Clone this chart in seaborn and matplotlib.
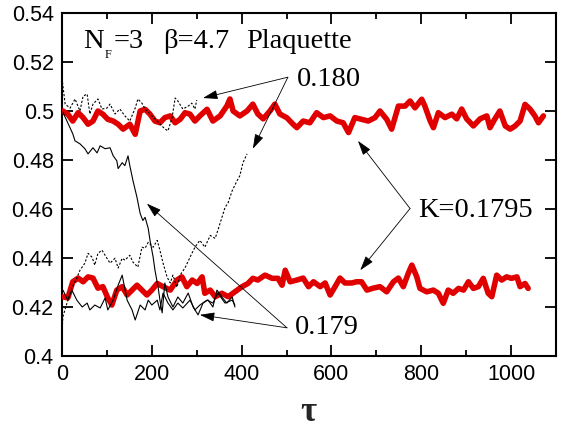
import matplotlib
matplotlib.use("Agg")
import matplotlib.pyplot as plt
import seaborn as sns
from matplotlib.ticker import MultipleLocator, FuncFormatter

# ---------------- data ----------------
# K=0.1795, upper run (red)
red_hi_tau = [2, 13, 24, 36, 47, 58, 69, 80, 91, 102, 114, 125, 136, 151, 163, 174, 185, 196, 207, 218,
              229, 241, 252, 263, 274, 285, 296, 307, 323, 336, 352, 367, 374, 381, 396, 412, 425, 436, 448, 463,
              474, 485, 501, 514, 523, 537, 552, 567, 582, 597, 612, 626, 638, 652, 667, 682, 697, 708, 723, 734,
              749, 764, 775, 786, 801, 808, 820, 827, 838, 853, 868, 879, 890, 901, 916, 931, 946, 953, 964, 975,
              987, 998, 1009, 1020, 1031, 1042, 1053, 1061, 1072]
red_hi_val = [0.5000, 0.4987, 0.4959, 0.4993, 0.4973, 0.4946, 0.4959, 0.5000, 0.4987, 0.4966, 0.4959, 0.4946,
              0.4926, 0.4946, 0.4905, 0.5000, 0.5007, 0.4987, 0.4959, 0.4952, 0.4973, 0.4980, 0.4952, 0.4966,
              0.4993, 0.4987, 0.4959, 0.4980, 0.5007, 0.4959, 0.4980, 0.5020, 0.5049, 0.5000, 0.4980, 0.5000,
              0.5028, 0.4988, 0.4968, 0.5000, 0.5028, 0.4988, 0.4972, 0.4947, 0.4932, 0.4959, 0.4952, 0.4993,
              0.4973, 0.4980, 0.4959, 0.4952, 0.4912, 0.4973, 0.4966, 0.4959, 0.4973, 0.5000, 0.4966, 0.4926,
              0.5020, 0.5020, 0.5041, 0.5013, 0.5048, 0.5020, 0.4959, 0.4932, 0.4993, 0.4973, 0.4987, 0.4968,
              0.5008, 0.4968, 0.4939, 0.4968, 0.4980, 0.4932, 0.4968, 0.5000, 0.4939, 0.4926, 0.4939, 0.4959,
              0.5027, 0.5008, 0.4980, 0.4952, 0.4980]

# K=0.1795, lower run (red)
red_lo_tau = [2, 13, 24, 36, 47, 58, 69, 80, 91, 102, 111, 122, 134, 145, 156, 167, 178, 189, 200, 212,
              225, 241, 256, 267, 278, 290, 301, 312, 318, 330, 341, 356, 370, 385, 401, 414, 425, 436, 452, 468,
              481, 490, 497, 508, 523, 537, 549, 560, 575, 586, 597, 608, 619, 630, 645, 656, 667, 679, 693, 708,
              723, 738, 749, 760, 771, 779, 790, 797, 812, 827, 838, 849, 860, 871, 883, 894, 905, 916, 927, 938,
              949, 957, 968, 979, 990, 1001, 1013, 1020, 1031, 1038]
red_lo_val = [0.4242, 0.4237, 0.4303, 0.4318, 0.4303, 0.4323, 0.4318, 0.4277, 0.4283, 0.4237, 0.4208, 0.4269,
              0.4283, 0.4249, 0.4269, 0.4289, 0.4269, 0.4249, 0.4269, 0.4296, 0.4283, 0.4269, 0.4310, 0.4323,
              0.4283, 0.4310, 0.4296, 0.4323, 0.4256, 0.4269, 0.4242, 0.4256, 0.4242, 0.4262, 0.4283, 0.4296,
              0.4317, 0.4310, 0.4330, 0.4317, 0.4317, 0.4289, 0.4350, 0.4303, 0.4310, 0.4318, 0.4283, 0.4303,
              0.4283, 0.4298, 0.4249, 0.4283, 0.4318, 0.4298, 0.4298, 0.4303, 0.4303, 0.4269, 0.4277, 0.4283,
              0.4262, 0.4303, 0.4318, 0.4283, 0.4337, 0.4371, 0.4323, 0.4276, 0.4262, 0.4269, 0.4256, 0.4215,
              0.4269, 0.4256, 0.4276, 0.4269, 0.4303, 0.4276, 0.4283, 0.4317, 0.4256, 0.4242, 0.4330, 0.4310,
              0.4323, 0.4317, 0.4323, 0.4283, 0.4296, 0.4276]

# K=0.179, run started from the ordered configuration (solid black)
k179a_tau = [2, 11, 24, 29, 40, 51, 58, 69, 78, 85, 96, 107, 114, 122, 125, 134, 140, 147, 151, 158, 167, 174,
             180, 185, 192, 196, 203, 207, 214, 218, 223, 229, 236, 247, 258, 269, 281, 292, 303, 314, 325, 336,
             345, 356, 367, 379, 385]
k179a_val = [0.4995, 0.4959, 0.4907, 0.4878, 0.4866, 0.4846, 0.4825, 0.4850, 0.4829, 0.4858, 0.4846, 0.4850,
             0.4817, 0.4797, 0.4765, 0.4789, 0.4777, 0.4817, 0.4777, 0.4716, 0.4647, 0.4582, 0.4553, 0.4566,
             0.4521, 0.4472, 0.4403, 0.4350, 0.4281, 0.4229, 0.4176, 0.4298, 0.4241, 0.4200, 0.4241, 0.4216,
             0.4257, 0.4200, 0.4168, 0.4216, 0.4229, 0.4200, 0.4269, 0.4241, 0.4216, 0.4241, 0.4200]

# K=0.179, run started low (solid black)
k179b_tau = [2, 13, 22, 33, 45, 56, 62, 73, 85, 96, 102, 114, 125, 134, 145, 156, 163, 174, 185, 192, 200, 212,
             218, 225, 236, 247, 258, 269, 285, 296, 307, 323, 336, 347, 363, 379, 385]
k179b_val = [0.4269, 0.4228, 0.4269, 0.4228, 0.4200, 0.4216, 0.4188, 0.4208, 0.4196, 0.4237, 0.4188, 0.4228,
             0.4289, 0.4330, 0.4228, 0.4188, 0.4147, 0.4208, 0.4188, 0.4228, 0.4208, 0.4228, 0.4188, 0.4257,
             0.4216, 0.4188, 0.4216, 0.4196, 0.4228, 0.4188, 0.4208, 0.4228, 0.4216, 0.4257, 0.4216, 0.4228,
             0.4208]

# K=0.180, run started high (dotted black)
k180a_tau = [0, 7, 18, 29, 40, 47, 56, 62, 69, 80, 89, 100, 107, 118, 129, 140, 151, 163, 169, 178, 185, 196,
             207, 218, 229, 236, 245, 252, 258, 269, 281, 289, 296, 300]
k180a_val = [0.5134, 0.5028, 0.5012, 0.5049, 0.5000, 0.5061, 0.5069, 0.4988, 0.5028, 0.5049, 0.5008, 0.5012,
             0.5028, 0.4988, 0.5008, 0.4980, 0.4959, 0.5012, 0.5049, 0.5032, 0.5008, 0.4988, 0.4968, 0.4947,
             0.4927, 0.4919, 0.4972, 0.5053, 0.5041, 0.5008, 0.5020, 0.5032, 0.5008, 0.5045]

# K=0.180, run started low (dotted black)
k180b_tau = [0, 2, 11, 22, 33, 40, 51, 58, 67, 73, 80, 89, 100, 107, 118, 125, 134, 140, 151, 158, 169, 178,
             185, 192, 203, 212, 218, 225, 234, 241, 247, 256, 263, 274, 285, 296, 307, 318, 330, 341, 347, 356,
             363, 370, 379, 390, 396, 403, 412]
k180b_val = [0.4095, 0.4160, 0.4216, 0.4277, 0.4318, 0.4350, 0.4379, 0.4419, 0.4403, 0.4371, 0.4419, 0.4432,
             0.4399, 0.4379, 0.4399, 0.4359, 0.4399, 0.4391, 0.4411, 0.4383, 0.4363, 0.4444, 0.4440, 0.4464,
             0.4444, 0.4472, 0.4432, 0.4379, 0.4322, 0.4298, 0.4330, 0.4281, 0.4330, 0.4360, 0.4403, 0.4444,
             0.4472, 0.4444, 0.4492, 0.4480, 0.4513, 0.4565, 0.4606, 0.4626, 0.4675, 0.4716, 0.4736, 0.4789,
             0.4825]

x_ticks = [0, 200, 400, 600, 800, 1000]
y_ticks = [0.40, 0.42, 0.44, 0.46, 0.48, 0.50, 0.52, 0.54]

# ---------------- style ----------------
sns.set_style("ticks")
plt.rcParams["font.family"] = ["Liberation Sans", "DejaVu Sans"]
plt.rcParams["mathtext.fontset"] = "custom"
plt.rcParams["mathtext.rm"] = "Liberation Serif"
plt.rcParams["mathtext.it"] = "Liberation Serif:italic"
plt.rcParams["mathtext.bf"] = "Liberation Serif:bold"

fig = plt.figure(figsize=(5.61, 4.34), dpi=100)
ax = fig.add_axes([62 / 561, 1 - 356 / 434, (556 - 62) / 561, (356 - 13) / 434])

RED = "#e00000"
red_lw = 4.0

sns.lineplot(x=red_hi_tau, y=red_hi_val, ax=ax, color=RED, lw=red_lw, estimator=None, sort=False, zorder=3)
sns.lineplot(x=red_lo_tau, y=red_lo_val, ax=ax, color=RED, lw=red_lw, estimator=None, sort=False, zorder=3)
sns.lineplot(x=k179a_tau, y=k179a_val, ax=ax, color="black", lw=0.8, estimator=None, sort=False, zorder=4)
sns.lineplot(x=k179b_tau, y=k179b_val, ax=ax, color="black", lw=0.8, estimator=None, sort=False, zorder=4)
sns.lineplot(x=k180a_tau, y=k180a_val, ax=ax, color="black", lw=0.8, estimator=None, sort=False, zorder=4,
             linestyle=(0, (2, 1.6)))
sns.lineplot(x=k180b_tau, y=k180b_val, ax=ax, color="black", lw=0.8, estimator=None, sort=False, zorder=4,
             linestyle=(0, (2, 1.6)))

ax.set_xlim(0, 1100)
ax.set_ylim(0.40, 0.54)
ax.set_xticks(x_ticks)
ax.xaxis.set_minor_locator(MultipleLocator(100))
ax.set_yticks(y_ticks)
ax.yaxis.set_major_formatter(FuncFormatter(lambda v, p: "%g" % round(v, 2)))
ax.tick_params(which="both", direction="in", top=True, right=True, width=1.3, colors="black")
ax.tick_params(which="major", length=8, labelsize=15.5, pad=6)
ax.tick_params(which="minor", length=4)
for s in ax.spines.values():
    s.set_linewidth(1.5)
    s.set_color("black")

ax.set_xlabel(r"$\mathbf{\tau}$", fontsize=25, labelpad=7)
ax.set_ylabel("")

serif = dict(family="Liberation Serif", fontsize=20.5, color="black", va="center", ha="left")

# title pieces: N, subscript F, =3, beta, Plaquette
ax.text(47, 0.5284, "N", **serif)
ax.text(96, 0.5227, "F", family="Liberation Serif", fontsize=9, color="black", va="center", ha="left")
ax.text(114, 0.5284, "=3", **serif)
ax.text(225, 0.5284, "β=4.7", **serif)
ax.text(410, 0.5284, "Plaquette", **serif)

ax.text(523, 0.5130, "0.180", **serif)
ax.text(793, 0.4594, "K=0.1795", **serif)
ax.text(519, 0.4115, "0.179", **serif)

arrow = dict(arrowstyle="-|>,head_length=0.9,head_width=0.28", color="black", lw=0.6,
             shrinkA=0, shrinkB=0)
for tip, base in [((314, 0.5053), (503, 0.5138)), ((425, 0.4846), (503, 0.5138)),
                  ((659, 0.4878), (775, 0.4602)), ((664, 0.4350), (775, 0.4602)),
                  ((189, 0.4622), (501, 0.4115)), ((307, 0.4168), (501, 0.4115))]:
    ax.annotate("", xy=tip, xytext=base, arrowprops=arrow, zorder=5)

fig.savefig("out.png", dpi=100)
